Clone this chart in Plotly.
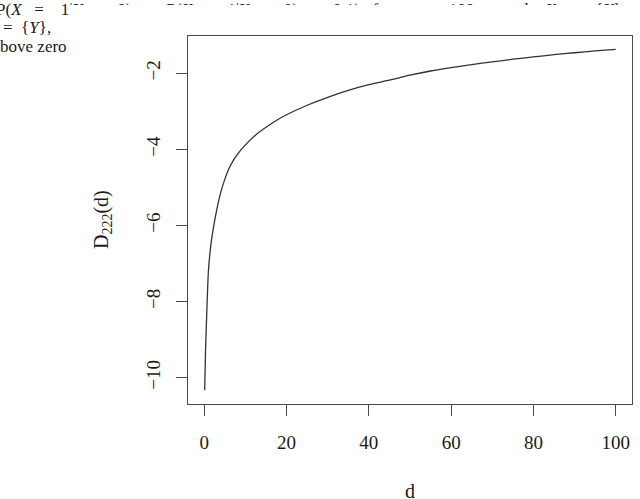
import plotly.graph_objects as go

# values
d = [0.1, 0.3, 0.6, 1, 1.5, 2, 3, 4, 5, 6, 7, 8, 9, 10, 12.5, 15, 17.5, 20,
     25, 30, 35, 40, 45, 50, 55, 60, 65, 70, 75, 80, 85, 90, 95, 100]
D222 = [-10.33, -9.3, -8.3, -7.2, -6.6, -6.2, -5.6, -5.13, -4.78, -4.5,
        -4.3, -4.14, -4.0, -3.88, -3.62, -3.42, -3.24, -3.09,
        -2.84, -2.63, -2.45, -2.3, -2.18, -2.05, -1.94, -1.85, -1.77,
        -1.7, -1.63, -1.57, -1.51, -1.46, -1.41, -1.37]

x_ticks = [0, 20, 40, 60, 80, 100]
y_ticks = [-10, -8, -6, -4, -2]

# surrounding page text (partly hidden behind the figure in the reference)
sp = "\u00a0"
page_lines = [
    "P(<i>X</i>" + sp * 3 + "=" + sp * 4 + "1|<i>Y</i>" + sp * 3 + "=" + sp * 3
    + "0)" + sp * 3 + "=" + sp * 3 + "P(<i>X</i>" + sp * 3 + "=" + sp * 3
    + "1|<i>Y</i>" + sp * 3 + "=" + sp * 3 + "0)" + sp * 3 + "=" + sp * 3
    + "0.1)" + sp * 3 + "for" + sp * 3 + "<i>n</i>" + sp * 3 + "=" + sp * 3
    + "100" + sp * 7 + "and" + sp * 4 + "<i>X</i>" + sp * 4 + "=" + sp * 3
    + "{<i>Y</i>}",
    "=" + sp * 2 + "{<i>Y</i>},",
    "above zero",
]
page_x = [-4, 3, -7.5]
page_y = [11, 29, 48]

W, H = 640, 499
ML, MR, MT, MB = 0, 8, 0, 95
PW, PH = W - ML - MR, H - MT - MB
serif = "Liberation Serif"
ink = "#1a1a1a"

fig = go.Figure()
fig.add_trace(go.Scatter(x=d, y=D222, mode="lines",
                         line=dict(color="#333333", width=1.3, shape="spline",
                                   smoothing=0.6),
                         showlegend=False, hoverinfo="skip"))

# left block of page text, and the thin strip of its first line
for xa, ya in (("x2", "y2"), ("x3", "y3")):
    fig.add_trace(go.Scatter(x=page_x, y=page_y, text=page_lines, mode="text",
                             textposition="middle right",
                             textfont=dict(family=serif, size=17, color=ink),
                             cliponaxis=True, xaxis=xa, yaxis=ya,
                             showlegend=False, hoverinfo="skip"))

axis_common = dict(showgrid=False, zeroline=False, showline=True, mirror=True,
                   linecolor="#4a4a4a", linewidth=1.3, ticks="outside",
                   ticklen=11, tickwidth=1.2, tickcolor="#4a4a4a",
                   tickfont=dict(family=serif, size=19, color=ink))

cut_x = 69
fig.update_layout(
    width=W, height=H,
    margin=dict(l=ML, r=MR, t=MT, b=MB),
    paper_bgcolor="white", plot_bgcolor="white",
    xaxis=dict(axis_common, domain=[188 / PW, 1], range=[-3.96, 103.96],
               tickvals=x_ticks, ticklabelstandoff=10),
    yaxis=dict(axis_common, domain=[0, (PH - 36) / PH], range=[-10.69, -1.02],
               tickvals=y_ticks, tickangle=-90, ticklabelstandoff=8),
    xaxis2=dict(visible=False, domain=[0, cut_x / PW], range=[0, cut_x],
                anchor="y2"),
    yaxis2=dict(visible=False, domain=[1 - 60 / PH, 1], range=[60, 0],
                anchor="x2"),
    xaxis3=dict(visible=False, domain=[cut_x / PW, 1], range=[cut_x, PW],
                anchor="y3"),
    yaxis3=dict(visible=False, domain=[1 - 5 / PH, 1], range=[5, 0],
                anchor="x3"),
    annotations=[
        dict(text="d", x=(188 / PW + 1) / 2, y=(PH - 491) / PH,
             xref="paper", yref="paper", xanchor="center", yanchor="middle",
             showarrow=False, font=dict(family=serif, size=20, color=ink)),
        dict(text="D<sub>222</sub>(d)", x=102 / PW, y=(PH - 220) / PH,
             xref="paper", yref="paper", xanchor="center", yanchor="middle",
             showarrow=False, textangle=-90,
             font=dict(family=serif, size=20, color=ink)),
    ],
)

fig.write_html("out.html", config={"displayModeBar": False},
               post_script="document.body.style.margin = '0';")
